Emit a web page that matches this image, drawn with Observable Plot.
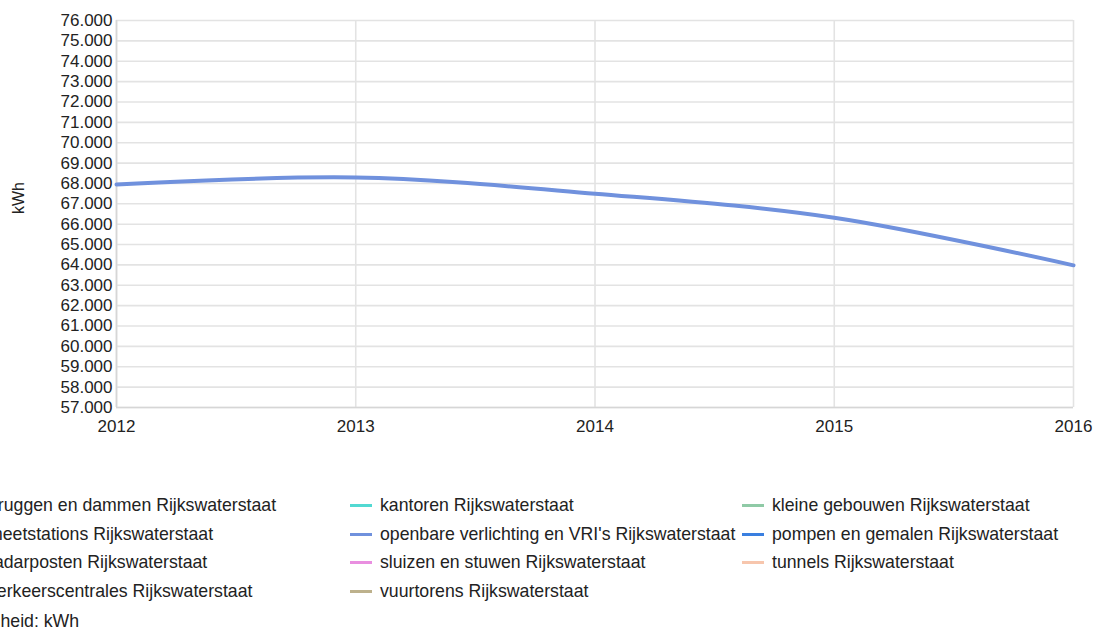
<!DOCTYPE html>
<html>
<head>
<meta charset="utf-8">
<script src="https://cdn.jsdelivr.net/npm/d3@7"></script>
<script src="https://cdn.jsdelivr.net/npm/@observablehq/plot@0.6"></script>
<style>
  html, body { margin: 0; padding: 0; background: #fff; overflow: hidden; }
  #wrap { position: relative; width: 1095px; height: 628px; overflow: hidden;
          font-family: "Liberation Sans", Arial, sans-serif; color: #222; }
  #chart { position: absolute; left: 0; top: 0; }
  .leg { position: absolute; white-space: nowrap; font-size: 17.7px; line-height: 20px; }
  .sw { display: inline-block; width: 22px; height: 3px; margin-right: 8px; vertical-align: middle; position: relative; top: -1px; }
</style>
</head>
<body>
<div id="wrap"><div id="chart"></div></div>
<script>
// ---- data ----
const years = [2012, 2013, 2014, 2015, 2016];
const verbruik = [67950, 68290, 67500, 66320, 63980]; // openbare verlichting en VRI's Rijkswaterstaat (kWh)
const yTicks = [57000, 58000, 59000, 60000, 61000, 62000, 63000, 64000, 65000, 66000, 67000, 68000, 69000, 70000, 71000, 72000, 73000, 74000, 75000, 76000];
const seriesName = "openbare verlichting en VRI's Rijkswaterstaat";
const seriesColor = "#7091dd";
const legendNames = [
  "bruggen en dammen Rijkswaterstaat", "kantoren Rijkswaterstaat", "kleine gebouwen Rijkswaterstaat",
  "meetstations Rijkswaterstaat", "openbare verlichting en VRI's Rijkswaterstaat", "pompen en gemalen Rijkswaterstaat",
  "radarposten Rijkswaterstaat", "sluizen en stuwen Rijkswaterstaat", "tunnels Rijkswaterstaat",
  "verkeerscentrales Rijkswaterstaat", "vuurtorens Rijkswaterstaat"
];
const legendColors = [
  "#e06666", "#52d9d2", "#8fcaa6",
  "#c9a36b", "#7091dd", "#3a7fe0",
  "#a07fd6", "#e98fe0", "#f7c6ad",
  "#9bbf5a", "#bdb18c"
];
const unitLabel = "eenheid: kWh";
const axisLabel = "kWh";

// ---- chart ----
const nl = d3.formatLocale({decimal: ",", thousands: ".", grouping: [3], currency: ["€ ", ""]});
const fmt = nl.format(",d");
const table = years.map((y, i) => ({jaar: y, waarde: verbruik[i], serie: seriesName}));

const chart = Plot.plot({
  width: 1095,
  height: 440,
  marginLeft: 116,
  marginRight: 22,
  marginTop: 20,
  marginBottom: 33,
  style: {fontFamily: "'Liberation Sans', Arial, sans-serif", fontSize: "17px", color: "#222", background: "white", overflow: "visible"},
  x: {domain: [2012, 2016], label: null},
  y: {domain: [57000, 76000], label: null},
  marks: [
    Plot.gridY(yTicks, {stroke: "#e3e3e3", strokeOpacity: 1, strokeWidth: 1.6}),
    Plot.gridX(years, {stroke: "#e3e3e3", strokeOpacity: 1, strokeWidth: 1.6}),
    Plot.ruleX([years[0]], {stroke: "#d6d6d6", strokeWidth: 1.6}),
    Plot.ruleY([yTicks[0]], {stroke: "#d6d6d6", strokeWidth: 1.6}),
    Plot.axisY(yTicks, {tickSize: 0, tickPadding: 4, tickFormat: fmt, label: null, fill: "#222"}),
    Plot.axisX(years, {tickSize: 0, tickPadding: 12, tickFormat: d => String(d), label: null, fill: "#222"}),
    Plot.line(table, {x: "jaar", y: "waarde", stroke: seriesColor, strokeWidth: 4, curve: "catmull-rom"}),
    Plot.text([axisLabel], {frameAnchor: "left", dx: -98, rotate: -90, text: d => d, fontSize: 16, fill: "#222"})
  ]
});
document.getElementById("chart").appendChild(chart);

// ---- legend ----
const wrap = document.getElementById("wrap");
const colX = [-42, 350, 742];
const rowY = [505, 534, 562, 591];
legendNames.forEach((name, i) => {
  const c = i % 3, r = Math.floor(i / 3);
  const d = document.createElement("div");
  d.className = "leg";
  d.style.left = colX[c] + "px";
  d.style.top = (rowY[r] - 10) + "px";
  const sw = document.createElement("span");
  sw.className = "sw";
  sw.style.background = legendColors[i];
  d.appendChild(sw);
  d.appendChild(document.createTextNode(name));
  wrap.appendChild(d);
});
const u = document.createElement("div");
u.className = "leg";
u.style.left = "-29px";
u.style.top = (621 - 10) + "px";
u.textContent = unitLabel;
wrap.appendChild(u);
</script>
</body>
</html>
